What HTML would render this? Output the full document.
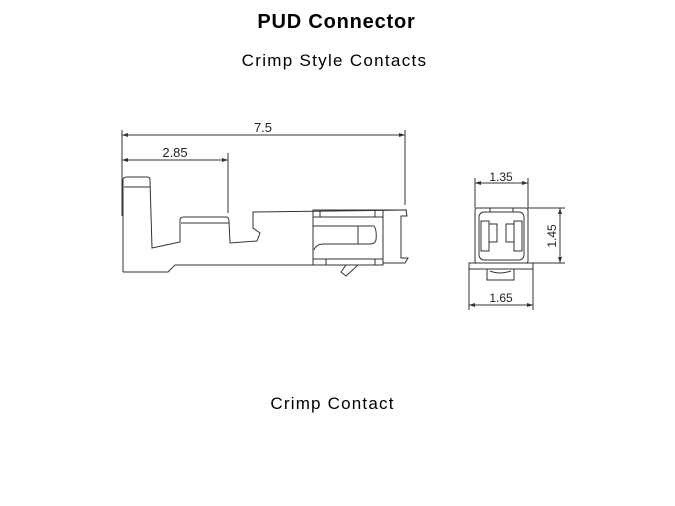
<!DOCTYPE html>
<html><head><style>
html,body{margin:0;padding:0;background:#fff;}
body{width:675px;height:506px;position:relative;overflow:hidden;font-family:"Liberation Sans","DejaVu Sans",sans-serif;}
.t{position:absolute;left:0;width:675px;text-align:center;color:#000;}
</style></head><body>
<div class="t" style="top:11px;font-size:20px;font-weight:bold;left:-1px;letter-spacing:0.8px;">PUD Connector</div>
<div class="t" style="top:51px;font-size:17px;left:-3px;letter-spacing:1.3px;">Crimp Style Contacts</div>
<div class="t" style="top:394px;font-size:17px;left:-5px;letter-spacing:1.2px;">Crimp Contact</div>
<svg width="675" height="506" style="position:absolute;left:0;top:0" fill="none" stroke="#333" stroke-width="1">
<defs><marker id="a" markerWidth="6" markerHeight="6" refX="6" refY="3" orient="auto-start-reverse"><path d="M0,1 L6,3 L0,5" fill="#333" stroke="none"/></marker></defs>
<line x1="122" y1="130" x2="122" y2="216"/>
<line x1="405" y1="130" x2="405" y2="205"/>
<line x1="228" y1="153" x2="228" y2="213"/>
<line x1="122" y1="135" x2="405" y2="135" marker-start="url(#a)" marker-end="url(#a)"/>
<line x1="122" y1="160" x2="228" y2="160" marker-start="url(#a)" marker-end="url(#a)"/>
<text x="263" y="132" font-size="13" fill="#222" stroke="none" text-anchor="middle" font-family="Liberation Sans">7.5</text>
<text x="175" y="157" font-size="13" fill="#222" stroke="none" text-anchor="middle" font-family="Liberation Sans">2.85</text>
<path d="M123,272 L168,272 L175,265 L313,265 M123,272 L123,180 Q123,177 127,177 L147,177 Q150,177 150,180 L152,248 L180,242 L180,220 Q180,217 184,217 L226,217 Q229,217 229,221 L230,243 L257,241 L260,233 L253,228 L253,212 L407,210"/>
<line x1="124" y1="187" x2="150" y2="187"/>
<line x1="181" y1="223" x2="229" y2="223"/>
<rect x="313" y="210" width="70" height="55"/>
<line x1="313" y1="217" x2="383" y2="217"/>
<line x1="313" y1="259" x2="383" y2="259"/>
<line x1="320" y1="210" x2="320" y2="217"/>
<line x1="375" y1="210" x2="375" y2="217"/>
<line x1="326" y1="259" x2="326" y2="265"/>
<line x1="375" y1="259" x2="375" y2="265"/>
<path d="M313,226 L374,226 Q377,230 376,240 Q375,244 370,244 L324,244 Q316,244 314,250"/>
<line x1="358" y1="226" x2="358" y2="244"/>
<path d="M383,210 L406,210 L407,216 L401,216 L401,258 L408,258 L405,263 L383,263"/>
<path d="M346,265 L341,272 L346,276 L358,265"/>
<line x1="475" y1="178" x2="475" y2="208"/>
<line x1="528" y1="178" x2="528" y2="208"/>
<line x1="475" y1="183" x2="528" y2="183" marker-start="url(#a)" marker-end="url(#a)"/>
<text x="501" y="181" font-size="12" fill="#222" stroke="none" text-anchor="middle" font-family="Liberation Sans">1.35</text>
<line x1="528" y1="208" x2="565" y2="208"/>
<line x1="533" y1="263" x2="565" y2="263"/>
<line x1="560" y1="208" x2="560" y2="263" marker-start="url(#a)" marker-end="url(#a)"/>
<text x="0" y="0" font-size="12" fill="#222" stroke="none" text-anchor="middle" font-family="Liberation Sans" transform="translate(556,236) rotate(-90)">1.45</text>
<rect x="475" y="208" width="53" height="55" rx="2"/>
<rect x="479" y="212" width="45" height="48" rx="5"/>
<rect x="481" y="221" width="8" height="30"/>
<rect x="514" y="221" width="8" height="30"/>
<path d="M489,224 L497,224 L497,242 L489,242 M514,224 L506,224 L506,242 L514,242"/>
<line x1="490" y1="208" x2="490" y2="212"/><line x1="513" y1="208" x2="513" y2="212"/>
<rect x="469" y="263" width="64" height="6"/>
<rect x="487" y="269" width="27" height="11"/>
<path d="M490,271 Q500,275 511,271"/>
<line x1="469" y1="269" x2="469" y2="310"/>
<line x1="533" y1="269" x2="533" y2="310"/>
<line x1="469" y1="305" x2="533" y2="305" marker-start="url(#a)" marker-end="url(#a)"/>
<text x="501" y="302" font-size="12" fill="#222" stroke="none" text-anchor="middle" font-family="Liberation Sans">1.65</text>
</svg>
</body></html>
